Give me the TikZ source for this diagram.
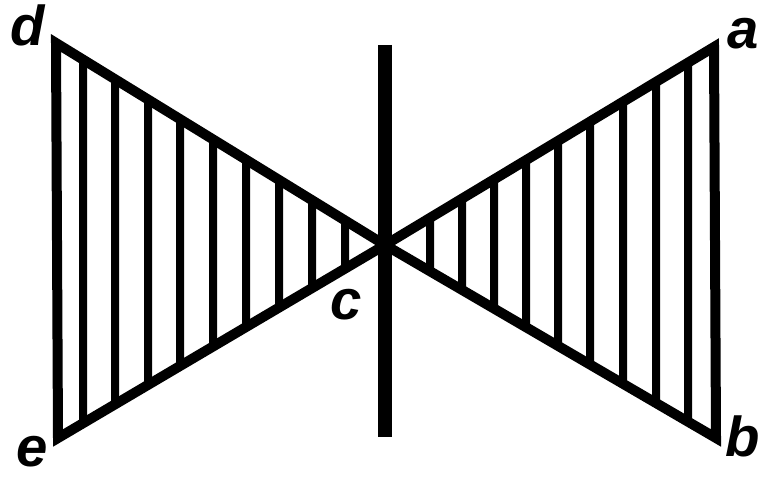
\documentclass[tikz,border=0pt]{standalone}
\usepackage{fontspec}
\setmainfont{Liberation Sans}
\usetikzlibrary{calc}
\begin{document}
\begin{tikzpicture}[x=0.03cm,y=-0.03cm,
  edge/.style={line width=0.3cm,line join=miter,line cap=round},
  hatch/.style={line width=0.24cm},
  bar/.style={line width=0.42cm},
  lbl/.style={inner sep=0pt,font=\fontsize{48}{48}\selectfont\bfseries\itshape}]
\useasboundingbox (0,0) rectangle (760,481);
\coordinate (c) at (385,245);
\coordinate (d) at (56,43);
\coordinate (e) at (58,438);
\coordinate (a) at (714,47);
\coordinate (b) at (716,438);
\coordinate (bartop) at (385,45);
\coordinate (barbot) at (385,437);
% hatching left
\foreach \x in {83,115,148,180,213,246,279,312,345}{
  \draw[hatch] ($(c)!{(385-\x)/329}!(d)$) -- ($(c)!{(385-\x)/327}!(e)$);
}
% hatching right
\foreach \x in {430,462,494,526,558,590,623,656,688}{
  \draw[hatch] ($(c)!{(\x-385)/329}!(a)$) -- ($(c)!{(\x-385)/331}!(b)$);
}
\draw[edge] (c) -- (d) -- (e) -- cycle;
\draw[edge] (c) -- (a) -- (b) -- cycle;
\draw[bar] (bartop) -- (barbot);
\node[lbl] (ld) at (28,25) {d};
\node[lbl] (la) at (743,34) {a};
\node[lbl] (lc) at (346,305) {c};
\node[lbl] (le) at (32,452) {e};
\node[lbl] (lb) at (743,436) {b};
\end{tikzpicture}
\end{document}
